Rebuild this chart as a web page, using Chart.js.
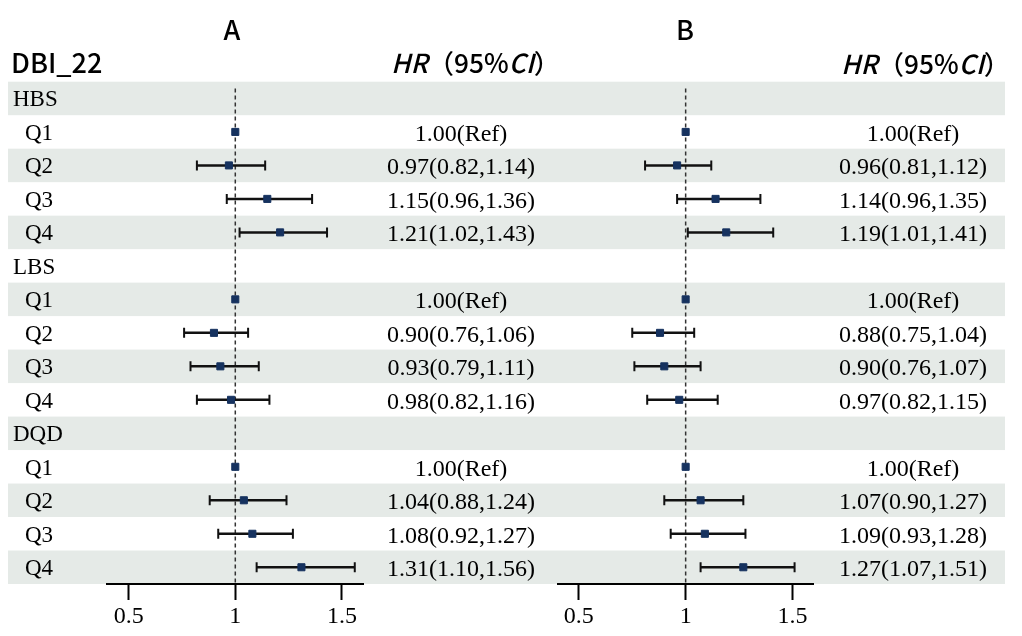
<!DOCTYPE html>
<html>
<head>
<meta charset="utf-8">
<script src="https://cdn.jsdelivr.net/npm/chart.js@4.4.1/dist/chart.umd.min.js"></script>
<style>
  body { margin: 0; background: #fff; }
  #wrap { position: relative; width: 1022px; height: 636px; }
  canvas { position: absolute; left: 0; top: 0; }
</style>
</head>
<body>
<div id="wrap">
  <canvas id="forestA" width="1022" height="636"></canvas>
  <canvas id="forestB" width="1022" height="636"></canvas>
</div>
<script>
var groups = ['HBS', 'LBS', 'DQD'];
var quartiles = ['Q1', 'Q2', 'Q3', 'Q4'];
var tickValues = [0.5, 1, 1.5];

// panel A
var hrA = [1.00, 0.97, 1.15, 1.21, 1.00, 0.90, 0.93, 0.98, 1.00, 1.04, 1.08, 1.31];
var loA = [null, 0.82, 0.96, 1.02, null, 0.76, 0.79, 0.82, null, 0.88, 0.92, 1.10];
var hiA = [null, 1.14, 1.36, 1.43, null, 1.06, 1.11, 1.16, null, 1.24, 1.27, 1.56];

// panel B
var hrB = [1.00, 0.96, 1.14, 1.19, 1.00, 0.88, 0.90, 0.97, 1.00, 1.07, 1.09, 1.27];
var loB = [null, 0.81, 0.96, 1.01, null, 0.75, 0.76, 0.82, null, 0.90, 0.93, 1.07];
var hiB = [null, 1.12, 1.35, 1.41, null, 1.04, 1.07, 1.15, null, 1.27, 1.28, 1.51];

var nRows = groups.length * (quartiles.length + 1);
var serif = '"Liberation Serif", "Times New Roman", serif';
var sans = '"Noto Sans CJK SC", "Noto Sans", sans-serif';

function rowOf(i) {
  return Math.floor(i / 4) * 5 + 1 + (i % 4);
}

function hrText(i, hr, lo, hi) {
  if (lo[i] === null) return hr[i].toFixed(2) + '(Ref)';
  return hr[i].toFixed(2) + '(' + lo[i].toFixed(2) + ',' + hi[i].toFixed(2) + ')';
}

// draws mixed-style text so that its ink runs from x0 to x1
function drawFitted(ctx, parts, x0, x1, y, size) {
  ctx.textAlign = 'left';
  ctx.textBaseline = 'alphabetic';
  function measure(sz) {
    var pos = 0, first = null, last = 0;
    parts.forEach(function(p, k) {
      ctx.font = p.s + ' ' + sz + 'px ' + sans;
      var m = ctx.measureText(p.t);
      p.w = m.width;
      if (k === 0) first = -m.actualBoundingBoxLeft;
      if (k === parts.length - 1) last = pos + m.actualBoundingBoxRight;
      pos += m.width;
    });
    return { start: first, end: last };
  }
  var m = measure(size);
  size = size * (x1 - x0) / (m.end - m.start);
  m = measure(size);
  var x = x0 - m.start;
  parts.forEach(function(p) {
    ctx.font = p.s + ' ' + size + 'px ' + sans;
    ctx.fillText(p.t, x, y);
    x += p.w;
  });
}

function headerParts() {
  return [
    { t: 'HR', s: 'italic 500' },
    { t: '（', s: '500' },
    { t: '95%', s: '500' },
    { t: 'CI', s: 'italic 500' },
    { t: '）', s: '500' }
  ];
}

function forestPlugin(opt) {
  return {
    id: 'forest' + opt.title,
    beforeDraw: function(chart) {
      var ctx = chart.ctx;
      var y = chart.scales.y;
      ctx.save();
      if (opt.background) {
        ctx.fillStyle = '#fff';
        ctx.fillRect(0, 0, chart.width, chart.height);
        ctx.fillStyle = '#e5eae7';
        for (var r = 0; r < nRows; r += 2) {
          var top = y.getPixelForValue(r - 0.5);
          var bot = y.getPixelForValue(r + 0.5);
          ctx.fillRect(8, top, 997, bot - top);
        }
      }
      ctx.fillStyle = '#000';
      ctx.font = '500 27px ' + sans;
      ctx.textAlign = 'center';
      ctx.textBaseline = 'alphabetic';
      ctx.fillText(opt.title, opt.titleX, 40);
      if (opt.labels) {
        drawFitted(ctx, [{ t: 'DBI_22', s: '500' }], 13, 102, 73, 27);
        ctx.font = '23px ' + serif;
        ctx.textAlign = 'left';
        groups.forEach(function(g, gi) {
          ctx.fillText(g, 13, y.getPixelForValue(gi * 5) + 8);
          quartiles.forEach(function(q, qi) {
            ctx.fillText(q, 25, y.getPixelForValue(gi * 5 + 1 + qi) + 8);
          });
        });
      }
      drawFitted(ctx, headerParts(), opt.headerX0, opt.headerX1, opt.headerY, 26);
      ctx.font = '24px ' + serif;
      ctx.textAlign = 'center';
      opt.hr.forEach(function(v, i) {
        ctx.fillText(hrText(i, opt.hr, opt.lo, opt.hi), opt.textX, y.getPixelForValue(rowOf(i)) + 9);
      });
      ctx.restore();
    },
    beforeDatasetsDraw: function(chart) {
      var ctx = chart.ctx;
      var x = chart.scales.x;
      var y = chart.scales.y;
      var area = chart.chartArea;
      ctx.save();
      // reference line at HR = 1
      ctx.strokeStyle = '#333';
      ctx.lineWidth = 1.5;
      ctx.setLineDash([4, 3]);
      ctx.beginPath();
      ctx.moveTo(x.getPixelForValue(1), y.getPixelForValue(-0.3));
      ctx.lineTo(x.getPixelForValue(1), area.bottom);
      ctx.stroke();
      ctx.setLineDash([]);
      // confidence intervals
      ctx.strokeStyle = '#111';
      opt.lo.forEach(function(lo, i) {
        if (lo === null) return;
        var py = y.getPixelForValue(rowOf(i));
        var x0 = x.getPixelForValue(lo);
        var x1 = x.getPixelForValue(opt.hi[i]);
        ctx.lineWidth = 2.5;
        ctx.beginPath();
        ctx.moveTo(x0, py); ctx.lineTo(x1, py);
        ctx.stroke();
        ctx.lineWidth = 2;
        ctx.beginPath();
        ctx.moveTo(x0, py - 5); ctx.lineTo(x0, py + 5);
        ctx.moveTo(x1, py - 5); ctx.lineTo(x1, py + 5);
        ctx.stroke();
      });
      ctx.restore();
    }
  };
}

function makeChart(id, hr, lo, hi, opt) {
  opt.hr = hr; opt.lo = lo; opt.hi = hi;
  return new Chart(document.getElementById(id), {
    type: 'scatter',
    data: {
      datasets: [{
        data: hr.map(function(v, i) { return { x: v, y: rowOf(i) }; }),
        pointStyle: 'rect',
        pointRadius: 5,
        borderWidth: 1,
        backgroundColor: '#16325f',
        borderColor: '#16325f',
        clip: false
      }]
    },
    options: {
      responsive: false,
      animation: false,
      events: [],
      layout: { padding: { top: 81.7, bottom: 0, left: opt.left, right: 1022 - opt.right } },
      plugins: { legend: { display: false }, tooltip: { enabled: false } },
      scales: {
        x: {
          type: 'linear',
          min: 0.4,
          max: 1.6,
          afterBuildTicks: function(s) { s.ticks = tickValues.map(function(v) { return { value: v }; }); },
          afterFit: function(s) { s.height = 52; },
          grid: { drawOnChartArea: false, drawTicks: true, tickLength: 16, tickWidth: 2, tickColor: '#000' },
          border: { display: true, color: '#000', width: 2 },
          ticks: {
            color: '#000', font: { family: serif, size: 24 }, padding: 2, maxRotation: 0, autoSkip: false,
            callback: function(v) { return String(v); }
          }
        },
        y: { type: 'linear', min: -0.5, max: nRows - 0.5, reverse: true, display: false }
      }
    },
    plugins: [forestPlugin(opt)]
  });
}

makeChart('forestA', hrA, loA, hiA, {
  title: 'A', titleX: 232, headerX0: 393, headerX1: 543, headerY: 73, textX: 461,
  left: 107.3, right: 363.3, background: true, labels: true
});
makeChart('forestB', hrB, loB, hiB, {
  title: 'B', titleX: 685, headerX0: 843, headerX1: 993, headerY: 74, textX: 913,
  left: 557.5, right: 813.8, background: false, labels: false
});
</script>
</body>
</html>
